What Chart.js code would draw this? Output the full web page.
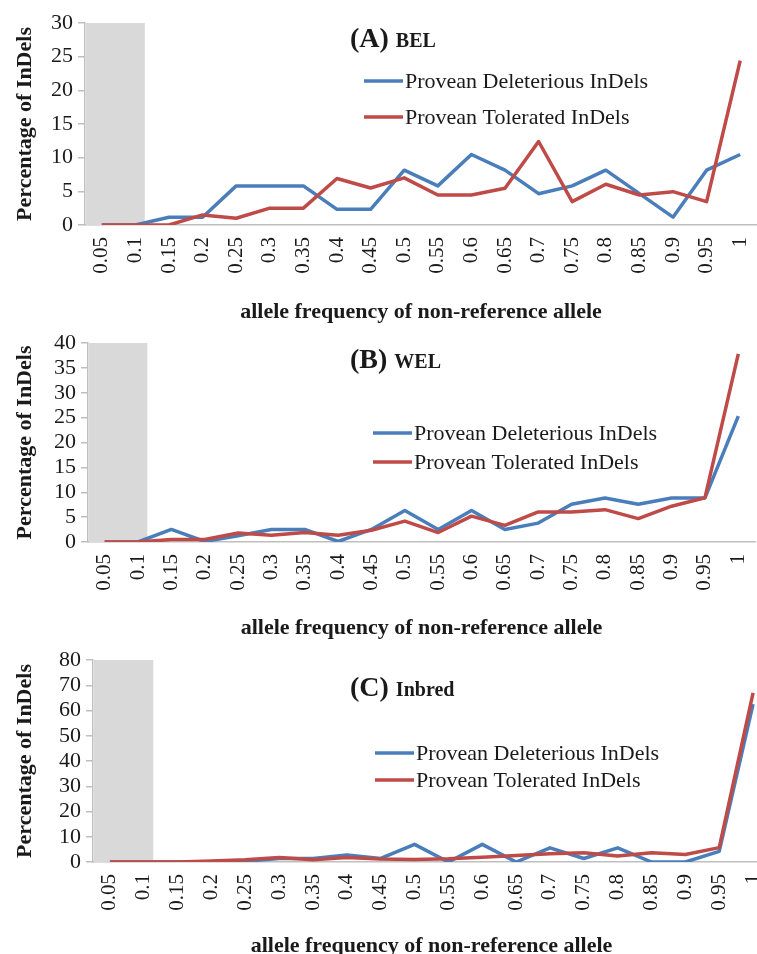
<!DOCTYPE html>
<html>
<head>
<meta charset="utf-8">
<script src="https://cdn.jsdelivr.net/npm/chart.js@4.4.0/dist/chart.umd.min.js"></script>
<style>
    body { margin: 0; background: #fff; overflow: hidden; width: 757px; height: 954px; position: relative; }
    canvas { position: absolute; left: 0; }
</style>
</head>
<body>
<canvas id="chart_a" width="757" height="326" style="top:0px"></canvas>
<canvas id="chart_b" width="757" height="322" style="top:320px"></canvas>
<canvas id="chart_c" width="770" height="324" style="top:636px"></canvas>
<script>
// categories: allele frequency bins
const freq_labels = ['0.05', '0.1', '0.15', '0.2', '0.25', '0.3', '0.35', '0.4', '0.45', '0.5',
                     '0.55', '0.6', '0.65', '0.7', '0.75', '0.8', '0.85', '0.9', '0.95', '1'];
const shaded_labels = ['0.05', '0.1'];
const series_names = ['Provean Deleterious InDels', 'Provean Tolerated InDels'];

// (A) BEL
const bel_deleterious = [0, 0, 1.16, 1.16, 5.81, 5.81, 5.81, 2.33, 2.33, 8.14,
                         5.81, 10.47, 8.14, 4.65, 5.81, 8.14, 4.65, 1.16, 8.14, 10.47];
const bel_tolerated = [0, 0, 0, 1.5, 1.0, 2.5, 2.5, 6.9, 5.5, 7.0,
                       4.45, 4.45, 5.45, 12.4, 3.47, 6.05, 4.45, 4.95, 3.47, 24.4];
// (B) WEL
const wel_deleterious = [0, 0, 2.53, 0.1, 1.27, 2.53, 2.53, 0.1, 2.53, 6.33,
                         2.53, 6.33, 2.53, 3.8, 7.59, 8.86, 7.59, 8.86, 8.86, 25.3];
const wel_tolerated = [0, 0, 0.5, 0.5, 1.8, 1.35, 1.9, 1.35, 2.35, 4.2,
                       1.9, 5.2, 3.35, 6.05, 6.05, 6.5, 4.7, 7.2, 8.9, 37.8];
// (C) Inbred
const inbred_deleterious = [0, 0, 0, 0, 0.3, 1.4, 1.4, 2.8, 1.4, 7.0,
                            0, 7.0, 0, 5.6, 1.4, 5.6, 0, 0, 4.2, 62.5];
const inbred_tolerated = [0, 0, 0, 0.4, 0.9, 1.8, 0.9, 1.8, 1.2, 1.0,
                          1.3, 1.9, 2.6, 3.3, 3.7, 2.4, 3.7, 3.0, 5.7, 67];

const SERIF = "'Liberation Serif', 'Times New Roman', serif";
const BLUE = '#4A7EBB';
const RED = '#BE4B48';

// grey block behind the first bins, title and in-plot legend
const panelDecor = {
    id: 'panelDecor',
    beforeDatasetsDraw(chart){
        const x = chart.scales.x;
        const y = chart.scales.y;
        const ctx = chart.ctx;
        const step = x.getPixelForValue(1) - x.getPixelForValue(0);
        const right = x.getPixelForValue(shaded_labels.length - 1) + step * 0.28;
        const top = y.getPixelForValue(y.max);
        const left = chart.chartArea.left + 1;
        ctx.save();
        ctx.fillStyle = '#d9d9d9';
        ctx.fillRect(left, top, right - left, y.getPixelForValue(0) - top);
        ctx.restore();
    },
    afterDraw(chart, args, opts){
        const ctx = chart.ctx;
        ctx.save();
        ctx.fillStyle = '#1a1a1a';
        ctx.textBaseline = 'alphabetic';
        ctx.font = 'bold 28px ' + SERIF;
        ctx.fillText(opts.title, opts.titleX, opts.titleY);
        const w = ctx.measureText(opts.title).width;
        ctx.font = 'bold 20px ' + SERIF;
        ctx.fillText(opts.subtitle, opts.titleX + w + 7, opts.titleY);

        ctx.font = '22px ' + SERIF;
        ctx.textBaseline = 'middle';
        chart.data.datasets.forEach((ds, i) => {
            const ly = opts.legendY[i];
            ctx.strokeStyle = ds.borderColor;
            ctx.lineWidth = 3.5;
            ctx.beginPath();
            ctx.moveTo(opts.legendX, ly);
            ctx.lineTo(opts.legendX + 39, ly);
            ctx.stroke();
            ctx.fillStyle = '#1a1a1a';
            ctx.fillText(ds.label, opts.legendX + 41, ly + 1);
        });
        ctx.restore();
    }
};

function initPanel(canvas_id, deleterious, tolerated, cfg){
    const ctx = document.getElementById(canvas_id).getContext('2d');
    return new Chart(ctx, {
        type: 'line',
        data: {
            labels: freq_labels,
            datasets: [{
                label: series_names[0],
                data: deleterious,
                borderColor: BLUE,
                borderWidth: 3.5,
                pointRadius: 0,
                borderJoinStyle: 'round',
                order: 1
            }, {
                label: series_names[1],
                data: tolerated,
                borderColor: RED,
                borderWidth: 3.5,
                pointRadius: 0,
                borderJoinStyle: 'round',
                order: 0
            }]
        },
        options: {
            responsive: false,
            animation: false,
            devicePixelRatio: 1,
            layout: { padding: { top: cfg.padTop, right: cfg.padRight, left: 0, bottom: 0 } },
            plugins: {
                legend: { display: false },
                tooltip: { enabled: false },
                panelDecor: cfg.decor
            },
            scales: {
                x: {
                    offset: true,
                    grid: { display: true, drawOnChartArea: false, drawTicks: false },
                    border: { display: true, color: '#bfbfbf', width: 1.5 },
                    ticks: {
                        minRotation: 90, maxRotation: 90, autoSkip: false, padding: 12,
                        color: '#1a1a1a', font: { family: SERIF, size: 21 }
                    },
                    title: {
                        display: true,
                        text: 'allele frequency of non-reference allele',
                        color: '#1a1a1a',
                        font: { family: SERIF, size: 22, weight: 'bold' },
                        padding: { top: 0, bottom: 0 }
                    },
                    afterFit(scale){
                        scale.height = cfg.xAxisHeight;
                        scale.paddingLeft = 0;
                        scale.paddingRight = 0;
                    }
                },
                y: {
                    min: 0,
                    max: cfg.yMax,
                    grid: { drawOnChartArea: false, drawTicks: true, tickLength: 7, color: '#bfbfbf', lineWidth: 1.5 },
                    border: { display: true, color: '#bfbfbf', width: 1.5 },
                    ticks: {
                        stepSize: cfg.yStep, padding: 5, autoSkip: false,
                        color: '#1a1a1a', font: { family: SERIF, size: 22 }
                    },
                    title: {
                        display: true,
                        text: 'Percentage of InDels',
                        color: '#1a1a1a',
                        font: { family: SERIF, size: 22, weight: 'bold' },
                        padding: { top: 12, bottom: 0 }
                    },
                    afterFit(scale){ scale.width = cfg.yAxisWidth; }
                }
            }
        },
        plugins: [panelDecor]
    });
}

initPanel('chart_a', bel_deleterious, bel_tolerated, {
    yMax: 30, yStep: 5, yAxisWidth: 85, xAxisHeight: 101, padTop: 23, padRight: 0,
    decor: { title: '(A)', subtitle: 'BEL', titleX: 350, titleY: 47, legendX: 364, legendY: [81, 117] }
});
initPanel('chart_b', wel_deleterious, wel_tolerated, {
    yMax: 40, yStep: 5, yAxisWidth: 88, xAxisHeight: 100, padTop: 23, padRight: 2,
    decor: { title: '(B)', subtitle: 'WEL', titleX: 350, titleY: 48, legendX: 373, legendY: [113, 142] }
});
initPanel('chart_c', inbred_deleterious, inbred_tolerated, {
    yMax: 80, yStep: 10, yAxisWidth: 93, xAxisHeight: 98, padTop: 24, padRight: 0,
    decor: { title: '(C)', subtitle: 'Inbred', titleX: 350, titleY: 60, legendX: 375, legendY: [117, 144] }
});
</script>
</body>
</html>
